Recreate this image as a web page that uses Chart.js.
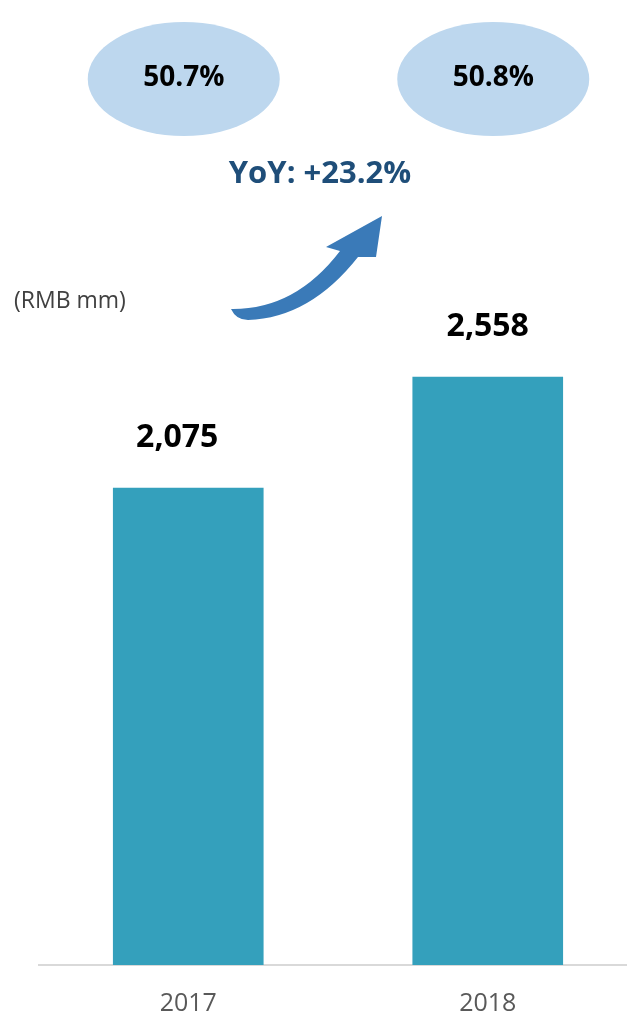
<!DOCTYPE html>
<html>
<head>
<meta charset="utf-8">
<script src="https://cdn.jsdelivr.net/npm/chart.js@4.4.1/dist/chart.umd.min.js"></script>
<style>
  html, body { margin: 0; padding: 0; background: #fff; overflow: hidden; }
  #wrap { width: 627px; height: 1014px; overflow: hidden; }
</style>
</head>
<body>
<div id="wrap"><canvas id="revenue" width="640" height="1014"></canvas></div>
<script>
/* Данные */
var years = ['2017', '2018'];
var revenue = [2075, 2558];
var margins = ['50.7%', '50.8%'];
var yoyText = 'YoY: +23.2%';
var unitText = '(RMB mm)';

var font = '"Open Sans", "DejaVu Sans", sans-serif';

/* подписи, эллипсы и стрелка */
var extras = {
    id: 'extras',
    afterDatasetsDraw: function (chart) {
        var c = chart.ctx;
        var meta = chart.getDatasetMeta(0);
        var labelShift = [-11, 0];
        var ovalShift = [-4.5, 5.5];
        c.save();

        // значения над столбцами
        c.fillStyle = '#000';
        c.font = 'bold 32px ' + font;
        c.textAlign = 'center';
        c.textBaseline = 'alphabetic';
        meta.data.forEach(function (bar, i) {
            var v = revenue[i].toLocaleString('en-US');
            c.fillText(v, bar.x + labelShift[i], bar.y - 41);
        });

        // эллипсы с маржой
        meta.data.forEach(function (bar, i) {
            var cx = bar.x + ovalShift[i];
            c.fillStyle = '#BDD7EE';
            c.beginPath();
            c.ellipse(cx, 79, 96, 57, 0, 0, Math.PI * 2);
            c.fill();
            c.fillStyle = '#000';
            c.font = 'bold 28px ' + font;
            c.textBaseline = 'middle';
            c.fillText(margins[i], cx, 78);
        });

        // YoY
        c.fillStyle = '#1F4E79';
        c.font = 'bold 31px ' + font;
        c.textBaseline = 'middle';
        c.fillText(yoyText, 320, 174);

        // стрелка
        c.fillStyle = '#3A7AB8';
        c.beginPath();
        c.moveTo(231, 309);
        c.quadraticCurveTo(295, 310, 340, 251);
        c.lineTo(326, 247);
        c.lineTo(382, 216);
        c.lineTo(376, 257);
        c.lineTo(358, 257);
        c.quadraticCurveTo(310, 318, 248, 320);
        c.quadraticCurveTo(236, 320, 231, 309);
        c.closePath();
        c.fill();

        // единицы
        c.fillStyle = '#404040';
        c.font = '23px ' + font;
        c.textAlign = 'left';
        c.fillText(unitText, 14, 301);

        c.restore();
    }
};

var ctx = document.getElementById('revenue').getContext('2d');
var chart = new Chart(ctx, {
    type: 'bar',
    data: {
        labels: years,
        datasets: [{
            data: revenue,
            backgroundColor: '#34A0BC',
            borderWidth: 0,
            barThickness: 150
        }]
    },
    options: {
        responsive: false,
        animation: false,
        layout: { padding: { left: 38.5, right: 2.5, top: 0, bottom: 0 } },
        plugins: {
            legend: { display: false },
            tooltip: { enabled: false }
        },
        scales: {
            x: {
                grid: { display: false, drawTicks: false },
                border: { display: true, color: '#D9D9D9', width: 2 },
                ticks: {
                    color: '#595959',
                    font: { family: font, size: 25 },
                    padding: 24
                },
                afterFit: function (s) { s.height = 49; }
            },
            y: {
                display: false,
                min: 0,
                max: 4198
            }
        }
    },
    plugins: [extras]
});
</script>
</body>
</html>
